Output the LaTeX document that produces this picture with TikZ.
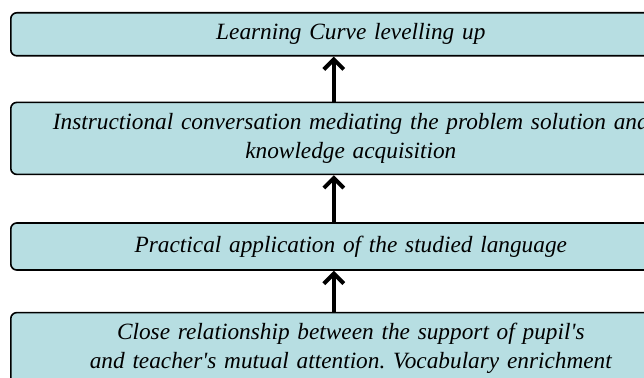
\documentclass[tikz,border=0pt]{standalone}
\usepackage{fontspec}
\setmainfont{Liberation Serif}
\usetikzlibrary{positioning, arrows.meta}
\definecolor{boxblue}{RGB}{183,222,226}
\frenchspacing

\begin{document}
\begin{tikzpicture}[x=1pt, y=-1pt, >={Straight Barb[length=10pt, width=20pt]},
        stage/.style={draw, line width=1.6pt, rounded corners=6pt, fill=boxblue,
            minimum width=680pt, text width=660pt, align=center, inner sep=0pt,
            font=\fontsize{23.3}{29}\selectfont\itshape},
        uparrow/.style={->, line width=4pt}]
        % Khung hình
        \useasboundingbox (0,0) rectangle (644,377);
        \clip (0,0) rectangle (644,377);

        % Bốn bậc, từ trên xuống
        \node[stage, minimum height=43pt, anchor=north west] (level) at (10,12)
            {Learning Curve levelling up};
        \node[stage, minimum height=72pt, below=45pt of level] (talk)
            {Instructional conversation mediating the problem solution and\\knowledge acquisition};
        \node[stage, minimum height=47pt, below=47pt of talk] (practice)
            {Practical application of the studied language};
        \node[stage, minimum height=72pt, below=41pt of practice] (relation)
            {Close relationship between the support of pupil\textquotesingle s\\and teacher\textquotesingle s mutual attention. Vocabulary enrichment};

        % Mũi tên đi lên
        \draw[uparrow] ([xshift=-17pt]talk.north) -- ([xshift=-17pt]level.south);
        \draw[uparrow] ([xshift=-17pt]practice.north) -- ([xshift=-17pt]talk.south);
        \draw[uparrow] ([xshift=-17pt]relation.north) -- ([xshift=-17pt]practice.south);
    \end{tikzpicture}
\end{document}
